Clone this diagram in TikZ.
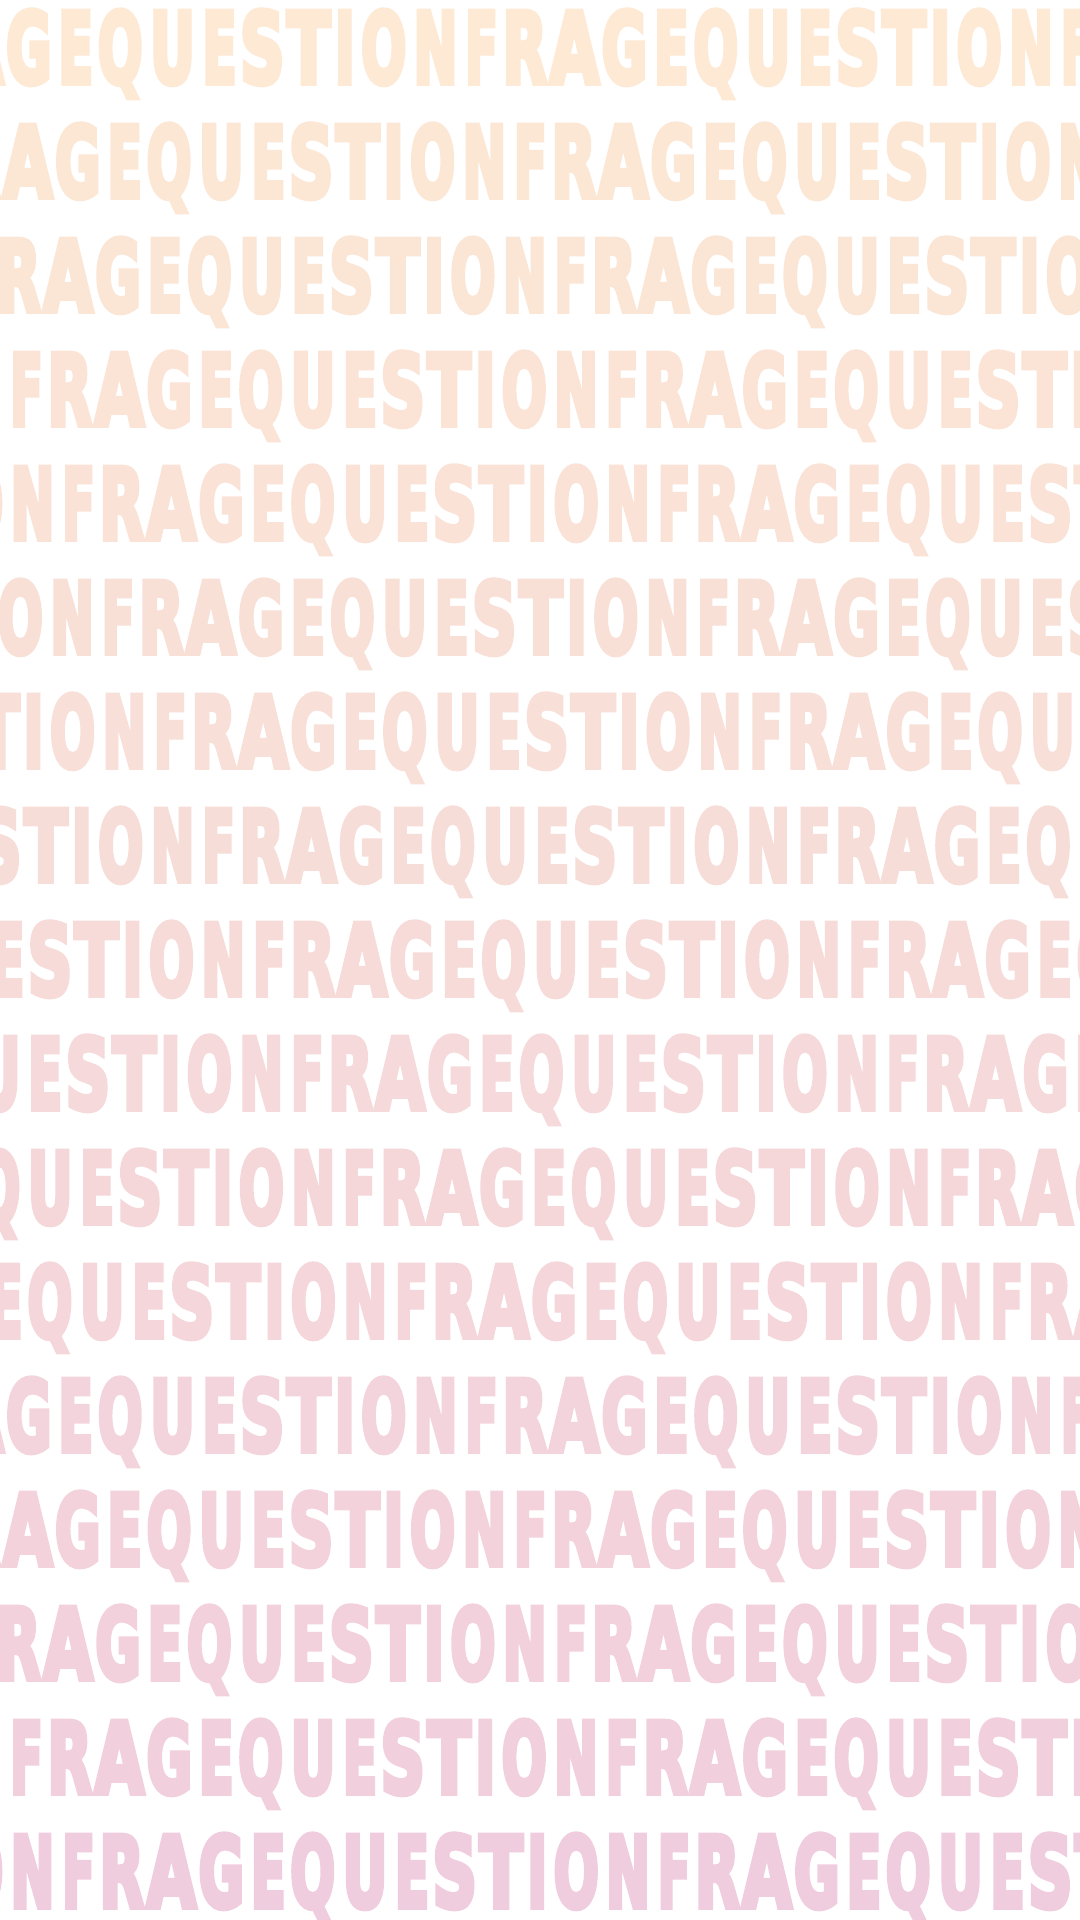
\documentclass[tikz,border=0pt]{standalone}
\usepackage{fontspec}
\usepackage{graphicx}
\newfontfamily\qfont{DejaVu Sans Condensed Bold}[FakeBold=6]
\definecolor{peachtone}{RGB}{253,233,212}
\definecolor{pinktone}{RGB}{240,205,222}
\newcommand{\qglyph}[2]{\resizebox{#2}{\height}{\qfont\fontsize{49pt}{49pt}\selectfont #1}}

\begin{document}
\begin{tikzpicture}[x=0.5pt, y=-0.5pt, every node/.style={anchor=base, inner sep=0pt, outer sep=0pt}]
			\fill[white] (0,0) rectangle (1080,1920);
			\useasboundingbox (0,0) rectangle (1080,1920);
			\clip (0,0) rectangle (1080,1920);
			
			% one row of FRAGEQUESTION per line, shifted
			\foreach \off [count=\n] in {-130.2,-81.3,-41,10.3,62.3,101.9,154.2,202.4,253.1,291,343,395,-130.2,-81.3,-41,10.3,62.3}{
				\pgfmathsetmacro\pct{(\n-1)*100/16}
				\colorlet{rowtone}{pinktone!\pct!peachtone}
				\foreach \k [count=\p] in {-1,0,1,2}{
					\foreach \ch/\cx/\cw [count=\m] in {F/16.2/32.4,R/59.4/44.4,A/109/49.2,G/159.1/45.4,E/206/34.5,Q/250.4/44.7,U/302.7/44.8,E/349.7/34,S/392.4/44.4,T/438.9/43,I/474.9/20,O/513.9/45,N/565.7/43.7}{
						\pgfmathsetmacro\qw{\cw*0.50}
						\node[text=rowtone] (r\n p\p l\m) at ({\off+\k*595.5+\cx},{83+114*(\n-1)}) {\qglyph{\ch}{\qw pt}};
					}
				}
			}
\end{tikzpicture}
\end{document}
